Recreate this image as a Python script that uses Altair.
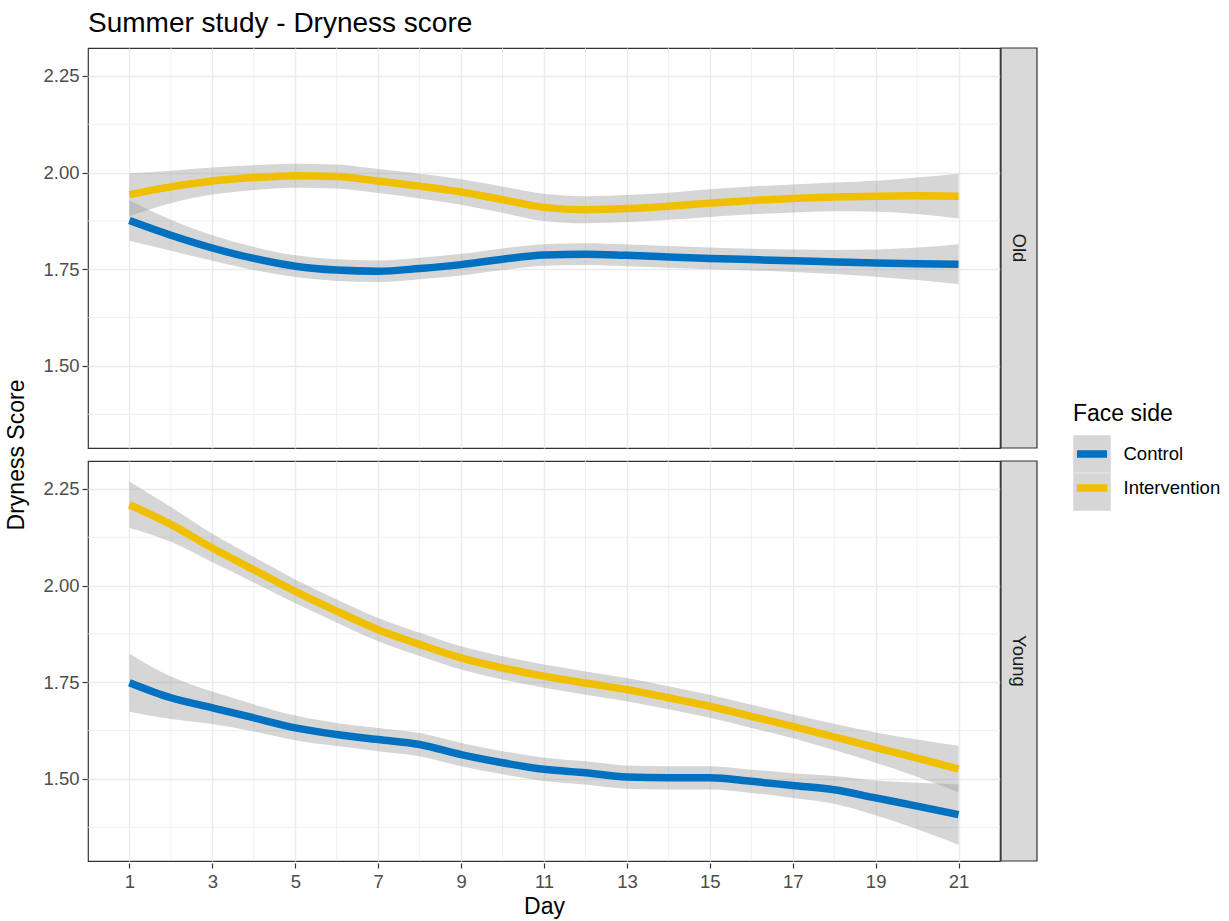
import altair as alt
import pandas as pd

days = list(range(1, 22))

old_control = [1.876, 1.838, 1.805, 1.778, 1.758, 1.748, 1.745, 1.752, 1.762, 1.776, 1.787,
               1.789, 1.786, 1.782, 1.778, 1.775, 1.772, 1.769, 1.766, 1.764, 1.763]
old_control_se = [0.052, 0.040, 0.033, 0.030, 0.028, 0.028, 0.028, 0.028, 0.028, 0.028, 0.028,
                  0.028, 0.028, 0.028, 0.028, 0.028, 0.029, 0.031, 0.035, 0.042, 0.052]
old_interv = [1.943, 1.963, 1.978, 1.987, 1.992, 1.990, 1.978, 1.965, 1.950, 1.930, 1.910,
              1.904, 1.907, 1.913, 1.921, 1.928, 1.933, 1.937, 1.939, 1.940, 1.939]
old_interv_se = [0.055, 0.042, 0.035, 0.032, 0.031, 0.031, 0.031, 0.032, 0.033, 0.034, 0.035,
                 0.035, 0.035, 0.035, 0.036, 0.036, 0.036, 0.037, 0.040, 0.047, 0.058]
young_control = [1.749, 1.710, 1.684, 1.658, 1.632, 1.615, 1.602, 1.589, 1.563, 1.542, 1.525,
                 1.516, 1.505, 1.503, 1.503, 1.494, 1.483, 1.472, 1.451, 1.430, 1.408]
young_control_se = [0.075, 0.055, 0.042, 0.035, 0.032, 0.030, 0.030, 0.030, 0.030, 0.030, 0.030,
                    0.030, 0.030, 0.030, 0.030, 0.030, 0.032, 0.036, 0.045, 0.060, 0.078]
young_interv = [2.209, 2.158, 2.097, 2.041, 1.985, 1.934, 1.886, 1.848, 1.813, 1.787, 1.766,
                1.748, 1.731, 1.710, 1.688, 1.662, 1.636, 1.609, 1.581, 1.554, 1.526]
young_interv_se = [0.060, 0.045, 0.037, 0.033, 0.031, 0.030, 0.030, 0.030, 0.030, 0.030, 0.030,
                   0.030, 0.030, 0.030, 0.030, 0.030, 0.031, 0.034, 0.039, 0.048, 0.060]

ages = ["Old", "Young"]
sides = ["Control", "Intervention"]
colors = ["#0070C0", "#F0C000"]
x_ticks = [1, 3, 5, 7, 9, 11, 13, 15, 17, 19, 21]
x_minor = [2, 4, 6, 8, 10, 12, 14, 16, 18, 20]
y_ticks = [1.50, 1.75, 2.00, 2.25]
y_minor = [1.375, 1.625, 1.875, 2.125]
x_domain = [0, 22]
y_domain = [1.288, 2.322]

series = {
    ("Old", "Control"): (old_control, old_control_se),
    ("Old", "Intervention"): (old_interv, old_interv_se),
    ("Young", "Control"): (young_control, young_control_se),
    ("Young", "Intervention"): (young_interv, young_interv_se),
}

rows = []
for (age, side), (vals, ses) in series.items():
    for d, v, s in zip(days, vals, ses):
        rows.append({"kind": "fit", "age": age, "side": side, "side_bg": side,
                     "Day": d, "value": v, "lo": v - s, "hi": v + s})
for age in ages:
    for g in x_minor:
        rows.append({"kind": "gx", "age": age, "gx": g})
    for g in y_minor:
        rows.append({"kind": "gy", "age": age, "gy": g})
    rows.append({"kind": "strip", "age": age})
df = pd.DataFrame(rows)

xscale = alt.Scale(domain=x_domain, nice=False, zero=False)
yscale = alt.Scale(domain=y_domain, nice=False, zero=False)

xaxis = alt.Axis(values=x_ticks, title="Day", grid=True, gridColor="#EBEBEB", gridWidth=1.4,
                 domain=False, tickColor="#333333", tickSize=5, tickWidth=1.2,
                 labelColor="#4D4D4D", labelFontSize=18.5, labelPadding=4,
                 titleFontSize=23, titleFontWeight="normal", titleColor="#000000",
                 titlePadding=5)
yaxis = alt.Axis(values=y_ticks, format=".2f", title=None, grid=True,
                 gridColor="#EBEBEB", gridWidth=1.4, domain=False, tickColor="#333333",
                 tickSize=5, tickWidth=1.2, labelColor="#4D4D4D", labelFontSize=18.5,
                 labelPadding=3)

base = alt.Chart()

gx = base.mark_rule(color="#EBEBEB", strokeWidth=0.8).encode(
    x=alt.X("gx:Q", scale=xscale, axis=xaxis)
).transform_filter(alt.datum.kind == "gx")

gy = base.mark_rule(color="#EBEBEB", strokeWidth=0.8).encode(
    y=alt.Y("gy:Q", scale=yscale, axis=yaxis)
).transform_filter(alt.datum.kind == "gy")

legend_x = 985
legend_y = 355

band = base.mark_area(opacity=0.4, interpolate="monotone").encode(
    x=alt.X("Day:Q", scale=xscale, axis=xaxis),
    y=alt.Y("lo:Q", scale=yscale, axis=yaxis),
    y2="hi:Q",
    fill=alt.Fill("side_bg:N", scale=alt.Scale(range=["#999999"]),
                  legend=alt.Legend(title="Face side", orient="none", legendX=legend_x,
                                    legendY=legend_y, symbolType="square", symbolSize=1406,
                                    symbolStrokeWidth=0, symbolOpacity=0.4, rowPadding=0,
                                    labelExpr="''", labelFontSize=18.5,
                                    labelOffset=12.5, titleFontSize=23,
                                    titleFontWeight="normal", titleColor="#000000",
                                    titlePadding=9, zindex=0)),
).transform_filter(alt.datum.kind == "fit")

line = base.mark_line(strokeWidth=7.5, interpolate="monotone").encode(
    x=alt.X("Day:Q", scale=xscale, axis=xaxis),
    y=alt.Y("value:Q", scale=yscale, axis=yaxis),
    stroke=alt.Stroke("side:N", scale=alt.Scale(domain=sides, range=colors),
                      legend=alt.Legend(title=None, orient="none", legendX=legend_x,
                                        legendY=legend_y + 32, symbolType="stroke",
                                        symbolSize=900, symbolStrokeWidth=7.5, rowPadding=0,
                                        labelColor="#000000", labelFontSize=18.5,
                                        labelOffset=12.5, zindex=1)),
).transform_filter(alt.datum.kind == "fit")

strip_rect = base.mark_rect(fill="#D9D9D9", stroke="#333333", strokeWidth=1.2).encode(
    x=alt.value(913), x2=alt.value(949), y=alt.value(0), y2=alt.value(400)
).transform_filter(alt.datum.kind == "strip")

strip_text = base.mark_text(angle=90, fontSize=18.5, color="#1A1A1A", baseline="middle",
                            align="center").encode(
    x=alt.value(931), y=alt.value(200), text="age:N"
).transform_filter(alt.datum.kind == "strip")

layered = alt.layer(gx, gy, band, line, strip_rect, strip_text).properties(width=912, height=400)

chart = layered.facet(
    row=alt.Row("age:N", sort=ages,
                header=alt.Header(labels=False, title="Dryness Score", titleOrient="left",
                                  titleAngle=-90, titleFontSize=23, titleFontWeight="normal",
                                  titleColor="#000000", titlePadding=-20)),
    data=df,
    spacing=9,
).properties(
    title=alt.Title("Summer study - Dryness score", anchor="start", frame="group", fontSize=28,
                    fontWeight="normal", color="#000000", offset=9),
    padding={"left": 5, "top": 9, "right": 5, "bottom": 0},
).configure(
    font="Liberation Sans"
).configure_view(
    stroke="#333333", strokeWidth=1.2
)

chart.save("out.html", embed_options={"renderer": "svg", "actions": False})
